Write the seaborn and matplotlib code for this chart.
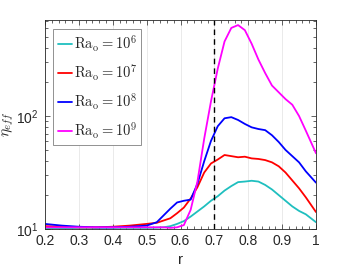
import numpy as np
import pandas as pd
import seaborn as sns
import matplotlib.pyplot as plt
from matplotlib.ticker import MultipleLocator, LogLocator, NullFormatter

# radial positions
r = [0.2, 0.25, 0.3, 0.35, 0.4, 0.45, 0.5, 0.53, 0.55, 0.57, 0.59, 0.61, 0.63,
     0.65, 0.67, 0.69, 0.71, 0.73, 0.75, 0.77, 0.79, 0.81, 0.83, 0.85, 0.87,
     0.89, 0.91, 0.93, 0.95, 0.97, 1.0]

# log10(eta_eff)
log_ra6 = [1.0, 1.005, 1.01, 1.01, 1.01, 1.01, 1.01, 1.012, 1.015, 1.025, 1.045,
           1.07, 1.11, 1.155, 1.20, 1.25, 1.29, 1.34, 1.38, 1.415, 1.42, 1.427,
           1.42, 1.39, 1.35, 1.30, 1.25, 1.20, 1.16, 1.13, 1.06]
log_ra7 = [1.025, 1.02, 1.015, 1.015, 1.02, 1.03, 1.045, 1.055, 1.075, 1.095, 1.14,
           1.19, 1.27, 1.37, 1.50, 1.58, 1.615, 1.655, 1.645, 1.635, 1.64, 1.625,
           1.62, 1.61, 1.59, 1.555, 1.50, 1.43, 1.36, 1.28, 1.15]
log_ra8 = [1.045, 1.03, 1.02, 1.015, 1.015, 1.02, 1.03, 1.06, 1.12, 1.18, 1.235,
           1.25, 1.26, 1.40, 1.60, 1.78, 1.91, 1.98, 1.99, 1.965, 1.93, 1.90,
           1.885, 1.875, 1.83, 1.77, 1.70, 1.645, 1.59, 1.51, 1.41]
log_ra9 = [1.015, 1.015, 1.015, 1.015, 1.015, 1.015, 1.015, 1.015, 1.015, 1.01, 1.015,
           1.035, 1.17, 1.42, 1.80, 2.13, 2.42, 2.66, 2.78, 2.805, 2.76, 2.64,
           2.50, 2.38, 2.27, 2.21, 2.15, 2.10, 2.00, 1.87, 1.67]

labels = [r'$\mathrm{Ra_o} = 10^6$', r'$\mathrm{Ra_o} = 10^7$',
          r'$\mathrm{Ra_o} = 10^8$', r'$\mathrm{Ra_o} = 10^9$']
colors = ['#1fbfbf', '#ff0000', '#0000ff', '#ff00ff']

frames = []
for lab, vals in zip(labels, [log_ra6, log_ra7, log_ra8, log_ra9]):
    frames.append(pd.DataFrame({'r': r, 'eta': 10 ** np.array(vals), 'Ra': lab}))
df = pd.concat(frames)

sns.set_style('ticks')
plt.rcParams['font.family'] = ['Liberation Sans', 'DejaVu Sans']
plt.rcParams['mathtext.fontset'] = 'cm'

fig = plt.figure(figsize=(3.49, 2.67), dpi=100)
ax = fig.add_axes([45 / 349, 1 - 229 / 267, 271 / 349, 209 / 267])

sns.lineplot(data=df, x='r', y='eta', hue='Ra', palette=colors, lw=1.3, ax=ax)
ax.axvline(0.7, color='black', ls='--', lw=1.0, dashes=(4, 3))

ax.set_yscale('log')
ax.set_xlim(0.2, 1.0)
ax.set_ylim(10, 10 ** 2.85)
ax.set_xticks([0.2, 0.3, 0.4, 0.5, 0.6, 0.7, 0.8, 0.9, 1.0])
ax.set_xticklabels(['0.2', '0.3', '0.4', '0.5', '0.6', '0.7', '0.8', '0.9', '1'])
ax.xaxis.set_minor_locator(MultipleLocator(0.02))
ax.yaxis.set_minor_locator(LogLocator(base=10, subs=np.arange(2, 10)))
ax.yaxis.set_minor_formatter(NullFormatter())
ax.grid(axis='x', color='#e6e6e6', lw=0.6)
ax.set_axisbelow(True)

for s in ax.spines.values():
    s.set_color('#262626')
    s.set_linewidth(0.6)
ax.tick_params(which='both', direction='in', top=True, right=True,
               colors='#262626', labelsize=10, width=0.5)
ax.tick_params(which='major', length=3.5)
ax.tick_params(which='minor', length=2)
ax.tick_params(axis='y', pad=5)

ax.set_xlabel('r', fontsize=11, color='#262626')
ax.set_ylabel(r'$\eta_{eff}$', fontsize=11, color='#262626', labelpad=0)

leg = ax.legend(loc='upper left', bbox_to_anchor=(0.03, 0.955), fontsize=10.5,
                handlelength=1.0, handletextpad=0.1, labelspacing=0.58,
                fancybox=False, framealpha=1, edgecolor='#808080',
                borderpad=0.3, borderaxespad=0)
leg.get_frame().set_linewidth(0.6)
leg.set_title(None)

fig.savefig('out.png', dpi=100)
